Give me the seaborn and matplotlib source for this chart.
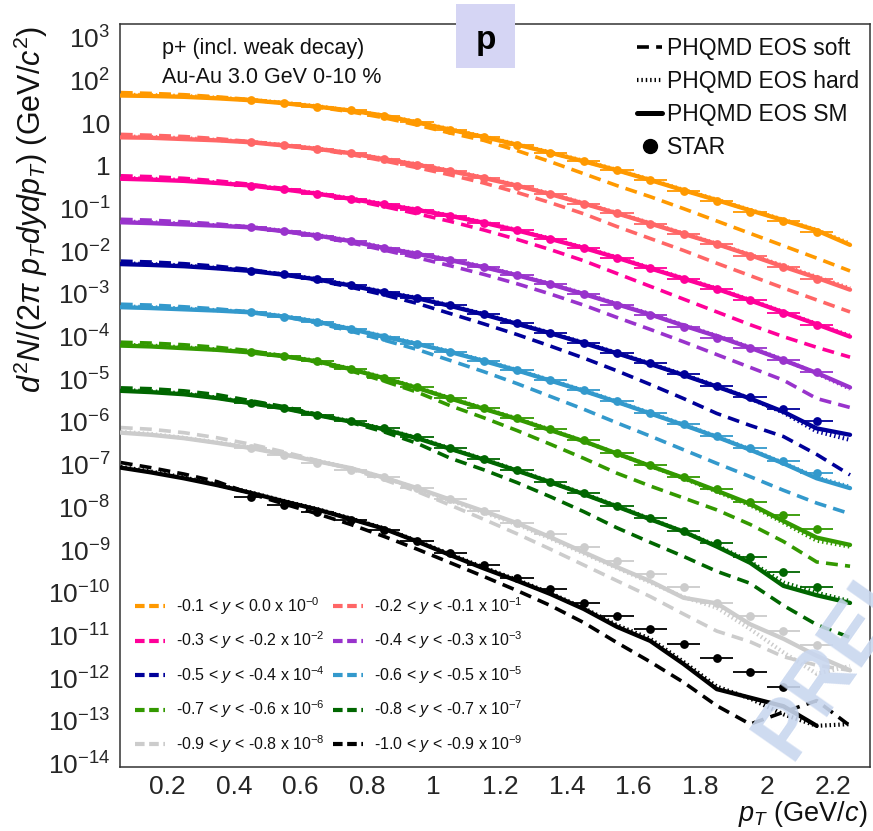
import numpy as np
import pandas as pd
import matplotlib
matplotlib.use("Agg")
import matplotlib.pyplot as plt
import seaborn as sns
from matplotlib.lines import Line2D
from matplotlib.patches import Rectangle
from matplotlib.ticker import FixedLocator, FuncFormatter, MultipleLocator, NullFormatter

sns.set_theme(style="white")
plt.rcParams['font.family'] = ['Liberation Sans', 'DejaVu Sans']
plt.rcParams['mathtext.fontset'] = 'custom'
plt.rcParams['mathtext.rm'] = 'Liberation Sans'
plt.rcParams['mathtext.it'] = 'Liberation Sans:italic'
plt.rcParams['mathtext.bf'] = 'Liberation Sans:bold'

# ---------------- data (log10 of the plotted, already scaled, yields) ----------------
pt_model = [0.06, 0.15, 0.25, 0.35, 0.45, 0.55, 0.65, 0.75, 0.85, 0.95, 1.05, 1.15,
            1.25, 1.35, 1.45, 1.55, 1.65, 1.75, 1.85, 1.95, 2.05, 2.15, 2.25]
pt_data = [0.45, 0.55, 0.65, 0.75, 0.85, 0.95, 1.05, 1.15, 1.25, 1.35, 1.45, 1.55,
           1.65, 1.75, 1.85, 1.95, 2.05, 2.15]
pt_halfwidth = 0.05

bin_labels = [
    r"-0.1 < $y$ < 0.0 x 10$^{-0}$",
    r"-0.2 < $y$ < -0.1 x 10$^{-1}$",
    r"-0.3 < $y$ < -0.2 x 10$^{-2}$",
    r"-0.4 < $y$ < -0.3 x 10$^{-3}$",
    r"-0.5 < $y$ < -0.4 x 10$^{-4}$",
    r"-0.6 < $y$ < -0.5 x 10$^{-5}$",
    r"-0.7 < $y$ < -0.6 x 10$^{-6}$",
    r"-0.8 < $y$ < -0.7 x 10$^{-7}$",
    r"-0.9 < $y$ < -0.8 x 10$^{-8}$",
    r"-1.0 < $y$ < -0.9 x 10$^{-9}$",
]
bin_colors = ['#FF9900', '#FF6666', '#FF0099', '#9933CC', '#000099',
              '#3399CC', '#339900', '#006600', '#CCCCCC', '#000000']

nan = np.nan
# PHQMD EOS SM (solid)
sm_0 = [1.65, 1.64, 1.62, 1.585, 1.54, 1.47, 1.39, 1.30, 1.18, 1.02, 0.85, 0.68, 0.50, 0.31, 0.11, -0.10, -0.33, -0.57, -0.80, -1.04, -1.27, -1.51, -1.85]
sm_1 = [0.67, 0.66, 0.63, 0.60, 0.555, 0.48, 0.40, 0.30, 0.16, 0.03, -0.12, -0.28, -0.46, -0.66, -0.88, -1.11, -1.35, -1.59, -1.83, -2.09, -2.36, -2.62, -2.90]
sm_2 = [-0.30, -0.32, -0.35, -0.40, -0.46, -0.55, -0.65, -0.77, -0.90, -1.03, -1.17, -1.33, -1.51, -1.71, -1.92, -2.15, -2.40, -2.64, -2.88, -3.15, -3.43, -3.71, -4.00]
sm_3 = [-1.32, -1.34, -1.37, -1.40, -1.44, -1.53, -1.63, -1.76, -1.92, -2.06, -2.21, -2.37, -2.56, -2.77, -3.00, -3.24, -3.48, -3.74, -3.99, -4.26, -4.55, -4.85, -5.19]
sm_4 = [-2.30, -2.32, -2.35, -2.40, -2.46, -2.55, -2.66, -2.80, -2.96, -3.10, -3.28, -3.48, -3.70, -3.92, -4.15, -4.39, -4.64, -4.90, -5.17, -5.45, -5.76, -6.15, -6.30]
sm_5 = [-3.31, -3.33, -3.36, -3.39, -3.43, -3.53, -3.65, -3.82, -4.00, -4.17, -4.36, -4.57, -4.79, -5.03, -5.27, -5.53, -5.80, -6.07, -6.35, -6.65, -6.97, -7.32, -7.55]
sm_6 = [-4.21, -4.23, -4.27, -4.31, -4.37, -4.46, -4.58, -4.76, -4.97, -5.20, -5.45, -5.69, -5.93, -6.19, -6.45, -6.74, -7.03, -7.31, -7.61, -7.92, -8.32, -8.71, -8.88]
sm_7 = [-5.27, -5.30, -5.35, -5.44, -5.56, -5.68, -5.84, -5.99, -6.17, -6.38, -6.63, -6.88, -7.14, -7.41, -7.69, -7.98, -8.28, -8.57, -8.92, -9.30, -9.84, -10.06, -10.24]
sm_8 = [-6.25, -6.30, -6.38, -6.49, -6.61, -6.76, -6.92, -7.08, -7.30, -7.55, -7.82, -8.09, -8.37, -8.70, -9.05, -9.40, -9.73, -10.12, -10.25, -10.74, -11.08, -11.48, -11.82]
sm_9 = [-7.07, -7.18, -7.32, -7.48, -7.66, -7.86, -8.05, -8.27, -8.50, -8.80, -9.12, -9.43, -9.72, -10.03, -10.38, -10.80, -11.13, -11.67, -12.26, -12.46, -12.66, -13.12, nan]

# PHQMD EOS hard (dotted)
hard_0 = [1.67, 1.66, 1.64, 1.60, 1.55, 1.48, 1.40, 1.30, 1.18, 1.03, 0.86, 0.69, 0.51, 0.32, 0.12, -0.09, -0.32, -0.56, -0.79, -1.03, -1.26, -1.50, -1.82]
hard_1 = [0.69, 0.68, 0.65, 0.61, 0.565, 0.49, 0.41, 0.30, 0.17, 0.04, -0.11, -0.27, -0.45, -0.65, -0.87, -1.10, -1.34, -1.58, -1.82, -2.08, -2.34, -2.60, -2.87]
hard_2 = [-0.28, -0.30, -0.33, -0.39, -0.45, -0.54, -0.64, -0.76, -0.89, -1.02, -1.16, -1.32, -1.50, -1.70, -1.91, -2.14, -2.39, -2.63, -2.87, -3.14, -3.42, -3.70, -3.98]
hard_3 = [-1.30, -1.32, -1.35, -1.39, -1.43, -1.52, -1.62, -1.75, -1.91, -2.05, -2.20, -2.36, -2.55, -2.76, -2.99, -3.23, -3.47, -3.73, -3.98, -4.25, -4.54, -4.86, -5.22]
hard_4 = [-2.28, -2.30, -2.33, -2.39, -2.45, -2.54, -2.65, -2.79, -2.95, -3.09, -3.27, -3.47, -3.69, -3.91, -4.14, -4.38, -4.63, -4.89, -5.16, -5.45, -5.78, -6.22, -6.42]
hard_5 = [-3.29, -3.31, -3.34, -3.38, -3.42, -3.52, -3.64, -3.81, -3.99, -4.16, -4.35, -4.56, -4.78, -5.02, -5.26, -5.52, -5.79, -6.06, -6.34, -6.64, -6.96, -7.30, -7.52]
hard_6 = [-4.19, -4.21, -4.25, -4.30, -4.36, -4.45, -4.57, -4.75, -4.96, -5.19, -5.44, -5.68, -5.92, -6.18, -6.45, -6.74, -7.03, -7.32, -7.63, -7.95, -8.36, -8.78, -8.92]
hard_7 = [-5.25, -5.28, -5.33, -5.43, -5.55, -5.67, -5.83, -5.98, -6.16, -6.37, -6.62, -6.87, -7.13, -7.40, -7.68, -7.97, -8.27, -8.57, -8.90, -9.27, -9.76, -10.00, -10.20]
hard_8 = [-6.23, -6.28, -6.37, -6.48, -6.60, -6.75, -6.91, -7.08, -7.30, -7.56, -7.84, -8.12, -8.40, -8.73, -9.08, -9.42, -9.76, -10.10, -10.35, -10.85, -11.40, -11.90, -11.72]
hard_9 = [-7.05, -7.16, -7.30, -7.47, -7.65, -7.85, -8.04, -8.26, -8.49, -8.79, -9.10, -9.41, -9.70, -10.01, -10.36, -10.76, -11.08, -11.62, -12.20, -12.48, -12.85, -13.12, -13.08]

# PHQMD EOS soft (dashed)
soft_0 = [1.72, 1.70, 1.67, 1.62, 1.555, 1.48, 1.38, 1.27, 1.13, 0.96, 0.77, 0.60, 0.36, 0.10, -0.18, -0.46, -0.72, -1.00, -1.29, -1.58, -1.87, -2.16, -2.46]
soft_1 = [0.74, 0.72, 0.69, 0.64, 0.57, 0.49, 0.39, 0.27, 0.12, -0.04, -0.21, -0.40, -0.62, -0.86, -1.12, -1.42, -1.70, -1.98, -2.28, -2.57, -2.86, -3.14, -3.42]
soft_2 = [-0.23, -0.25, -0.29, -0.35, -0.43, -0.53, -0.65, -0.79, -0.95, -1.12, -1.30, -1.50, -1.72, -1.96, -2.22, -2.52, -2.82, -3.12, -3.42, -3.72, -4.00, -4.25, -4.48]
soft_3 = [-1.25, -1.27, -1.31, -1.36, -1.43, -1.53, -1.65, -1.80, -1.97, -2.15, -2.34, -2.54, -2.76, -3.00, -3.26, -3.55, -3.83, -4.12, -4.42, -4.72, -5.02, -5.45, -5.66]
soft_4 = [-2.23, -2.25, -2.29, -2.35, -2.43, -2.54, -2.68, -2.84, -3.02, -3.22, -3.46, -3.70, -3.95, -4.22, -4.50, -4.80, -5.12, -5.45, -5.80, -6.08, -6.34, -6.76, -7.24]
soft_5 = [-3.24, -3.26, -3.30, -3.35, -3.42, -3.53, -3.68, -3.87, -4.08, -4.30, -4.56, -4.82, -5.10, -5.40, -5.70, -6.02, -6.33, -6.65, -6.97, -7.28, -7.60, -7.90, -8.15]
soft_6 = [-4.13, -4.15, -4.19, -4.25, -4.33, -4.45, -4.60, -4.80, -5.04, -5.30, -5.62, -5.90, -6.20, -6.52, -6.85, -7.20, -7.50, -7.78, -8.06, -8.40, -8.80, -9.28, -9.38]
soft_7 = [-5.20, -5.22, -5.27, -5.36, -5.50, -5.64, -5.82, -6.01, -6.23, -6.50, -6.85, -7.12, -7.42, -7.75, -8.10, -8.48, -8.82, -9.15, -9.50, -9.78, -10.30, -10.75, -11.05]
soft_8 = [-6.13, -6.17, -6.25, -6.37, -6.52, -6.70, -6.90, -7.10, -7.35, -7.63, -7.95, -8.28, -8.62, -8.98, -9.35, -9.72, -10.09, -10.50, -10.90, -11.15, -11.50, -11.70, -11.82]
soft_9 = [-6.95, -7.07, -7.22, -7.40, -7.68, -7.92, -8.15, -8.40, -8.68, -8.98, -9.30, -9.62, -9.95, -10.30, -10.70, -11.17, -11.62, -12.10, -12.65, -13.08, -12.80, -12.53, -13.12]

# STAR data points
star_0 = [1.54, 1.47, 1.39, 1.30, 1.18, 1.02, 0.85, 0.68, 0.50, 0.31, 0.11, -0.10, -0.34, -0.58, -0.81, -1.07, -1.30, -1.55]
star_1 = [0.555, 0.48, 0.40, 0.30, 0.16, 0.03, -0.12, -0.28, -0.46, -0.66, -0.88, -1.11, -1.36, -1.59, -1.83, -2.12, -2.37, -2.65]
star_2 = [-0.46, -0.55, -0.65, -0.77, -0.90, -1.03, -1.17, -1.33, -1.51, -1.71, -1.92, -2.15, -2.40, -2.64, -2.88, -3.15, -3.45, -3.73]
star_3 = [-1.44, -1.53, -1.63, -1.76, -1.92, -2.06, -2.21, -2.37, -2.56, -2.77, -3.00, -3.26, -3.49, -3.77, -4.02, -4.27, -4.55, -4.82]
star_4 = [-2.45, -2.54, -2.65, -2.79, -2.95, -3.09, -3.26, -3.47, -3.69, -3.91, -4.14, -4.38, -4.62, -4.88, -5.15, -5.42, -5.70, -5.98]
star_5 = [-3.43, -3.53, -3.65, -3.82, -4.00, -4.17, -4.35, -4.56, -4.78, -5.02, -5.25, -5.51, -5.78, -6.05, -6.33, -6.62, -6.91, -7.20]
star_6 = [-4.36, -4.45, -4.58, -4.75, -4.96, -5.19, -5.445, -5.68, -5.91, -6.17, -6.42, -6.72, -7.01, -7.28, -7.58, -7.87, -8.18, -8.51]
star_7 = [-5.56, -5.68, -5.84, -5.97, -6.15, -6.36, -6.62, -6.87, -7.125, -7.40, -7.67, -7.96, -8.26, -8.55, -8.84, -9.17, -9.51, -9.86]
star_8 = [-6.62, -6.78, -6.95, -7.12, -7.30, -7.55, -7.81, -8.08, -8.36, -8.63, -8.94, -9.25, -9.56, -9.87, -10.23, -10.55, -10.89, -11.23]
star_9 = [-7.75, -7.95, -8.10, -8.30, -8.53, -8.78, -9.06, -9.34, -9.65, -9.92, -10.24, -10.55, -10.86, -11.21, -11.52, -11.86, -12.20, nan]

sm_all = [sm_0, sm_1, sm_2, sm_3, sm_4, sm_5, sm_6, sm_7, sm_8, sm_9]
hard_all = [hard_0, hard_1, hard_2, hard_3, hard_4, hard_5, hard_6, hard_7, hard_8, hard_9]
soft_all = [soft_0, soft_1, soft_2, soft_3, soft_4, soft_5, soft_6, soft_7, soft_8, soft_9]
star_all = [star_0, star_1, star_2, star_3, star_4, star_5, star_6, star_7, star_8, star_9]

# ---------------- figure ----------------
W, H = 873, 831
fig = plt.figure(figsize=(W / 100, H / 100), dpi=100)
fig.patch.set_facecolor('white')
ax = fig.add_axes([120 / W, 1 - 767 / H, 750 / W, 743 / H])
ax.set_facecolor('white')
ax.set_yscale('log')

DASH = (0, (3.3, 2.0))
DOT = (0, (0.35, 0.7))

legend_handles = []
for i in range(10):
    c = bin_colors[i]
    df = pd.DataFrame({'pt': pt_model,
                       'soft': 10.0 ** np.array(soft_all[i]),
                       'hard': 10.0 ** np.array(hard_all[i]),
                       'sm': 10.0 ** np.array(sm_all[i])})
    sns.lineplot(data=df, x='pt', y='soft', ax=ax, color=c, lw=2.6, linestyle=DASH,
                 estimator=None, sort=False, zorder=2)
    sns.lineplot(data=df, x='pt', y='hard', ax=ax, color=c, lw=3.0, linestyle=DOT,
                 estimator=None, sort=False, zorder=3)
    sns.lineplot(data=df.dropna(subset=['sm']), x='pt', y='sm', ax=ax, color=c, lw=3.1,
                 estimator=None, sort=False, zorder=4)
    dd = pd.DataFrame({'pt': pt_data, 'y': 10.0 ** np.array(star_all[i])}).dropna()
    ax.errorbar(dd['pt'], dd['y'], xerr=pt_halfwidth, fmt='none', ecolor=c,
                elinewidth=1.3, capsize=0, zorder=5)
    sns.scatterplot(data=dd, x='pt', y='y', ax=ax, color=c, s=40, linewidth=0,
                    zorder=6)
    legend_handles.append(Line2D([], [], color=c, lw=3.0, linestyle=(0, (2.3, 1.1))))

ax.set_xlim(0.0577, 2.310)
ax.set_ylim(10 ** -14.085, 10 ** 3.327)
ax.set_xlabel('')
ax.set_ylabel('')

# ticks
ax.xaxis.set_major_locator(MultipleLocator(0.2))
ax.xaxis.set_minor_locator(MultipleLocator(0.05))
ax.xaxis.set_major_formatter(FuncFormatter(lambda v, p: ('%d' % round(v)) if abs(v - round(v)) < 1e-6 else ('%.1f' % v)))
dec = list(range(-14, 4))
ax.yaxis.set_major_locator(FixedLocator([10.0 ** d for d in dec]))
minors = [m * 10.0 ** d for d in range(-15, 4) for m in range(2, 10)]
ax.yaxis.set_minor_locator(FixedLocator(minors))
ax.yaxis.set_minor_formatter(NullFormatter())

def yfmt(v, p):
    e = int(round(np.log10(v)))
    if e == 0:
        return '1'
    if e == 1:
        return '10'
    return r'$10^{%d}$' % e

ax.yaxis.set_major_formatter(FuncFormatter(yfmt))
ax.tick_params(axis='both', which='both', direction='in', top=False, right=False,
               color='black', width=1.0)
ax.tick_params(axis='y', which='major', length=17, pad=7, labelsize=19)
ax.tick_params(axis='y', which='minor', length=8.5)
ax.tick_params(axis='x', which='major', length=14, pad=6, labelsize=19)
ax.tick_params(axis='x', which='minor', length=6.5)
for s in ax.spines.values():
    s.set_color('#333333')
    s.set_linewidth(1.1)

# axis titles
fig.text(31 / W, 1 - 209 / H,
         r'$d^{2}N/(2\pi\ p_{T}dydp_{T})$ (GeV/$c^{2}$)',
         rotation=90, ha='center', va='center', fontsize=22, color='#111111')
fig.text(867 / W, 1 - 814 / H, r'$p_{T}$ (GeV/$c$)', ha='right', va='center',
         fontsize=19.5, color='#111111')

# annotations
ax.text((162 - 120) / 750, (767 - 54) / 743, 'p+ (incl. weak decay)',
        transform=ax.transAxes, fontsize=15.5, ha='left', va='baseline', color='#111111')
ax.text((162 - 120) / 750, (767 - 83) / 743, 'Au-Au 3.0 GeV 0-10 %',
        transform=ax.transAxes, fontsize=15.5, ha='left', va='baseline', color='#111111')

# model legend (top right)
model_handles = [Line2D([], [], color='black', lw=2.6, linestyle=DASH),
                 Line2D([], [], color='black', lw=3.0, linestyle=DOT),
                 Line2D([], [], color='black', lw=3.6),
                 Line2D([], [], color='black', marker='o', ls='none', markersize=10)]
leg1 = ax.legend(model_handles, ['PHQMD EOS soft', 'PHQMD EOS hard', 'PHQMD EOS SM', 'STAR'],
                 loc='upper left', bbox_to_anchor=((637 - 120) / 750, (767 - 37) / 743),
                 frameon=False, fontsize=16.5, handlelength=1.1, handletextpad=0.22,
                 labelspacing=0.43, borderpad=0, borderaxespad=0)
for t in leg1.get_texts():
    t.set_color('#111111')
ax.add_artist(leg1)

# rapidity legend (bottom left), row-wise order
order = [0, 2, 4, 6, 8, 1, 3, 5, 7, 9]
leg2 = ax.legend([legend_handles[k] for k in order], [bin_labels[k] for k in order],
                 ncol=2, loc='upper left',
                 bbox_to_anchor=((135 - 120) / 750, (767 - 595) / 743),
                 frameon=False, fontsize=11.5, handlelength=1.85, handletextpad=0.7,
                 labelspacing=0.8, columnspacing=0.55, borderpad=0, borderaxespad=0)
for t in leg2.get_texts():
    t.set_color('#111111')

# "p" box
fig.add_artist(Rectangle((456 / W, 1 - 68 / H), 59 / W, 64 / H, transform=fig.transFigure,
                         facecolor='#D5D5F4', edgecolor='none', zorder=10))
fig.text(486 / W, 1 - 41 / H, 'p', ha='center', va='center', fontsize=24,
         fontweight='bold', color='black', zorder=11)

# PRELIMINARY watermark
fig.text(790 / W, 1 - 762 / H, 'PRELIMINARY', rotation=55, rotation_mode='anchor',
         ha='left', va='baseline', fontsize=60, fontweight='bold', color='#C9D7EF',
         alpha=0.9, zorder=12)

fig.savefig('out.png', dpi=100, facecolor='white')
